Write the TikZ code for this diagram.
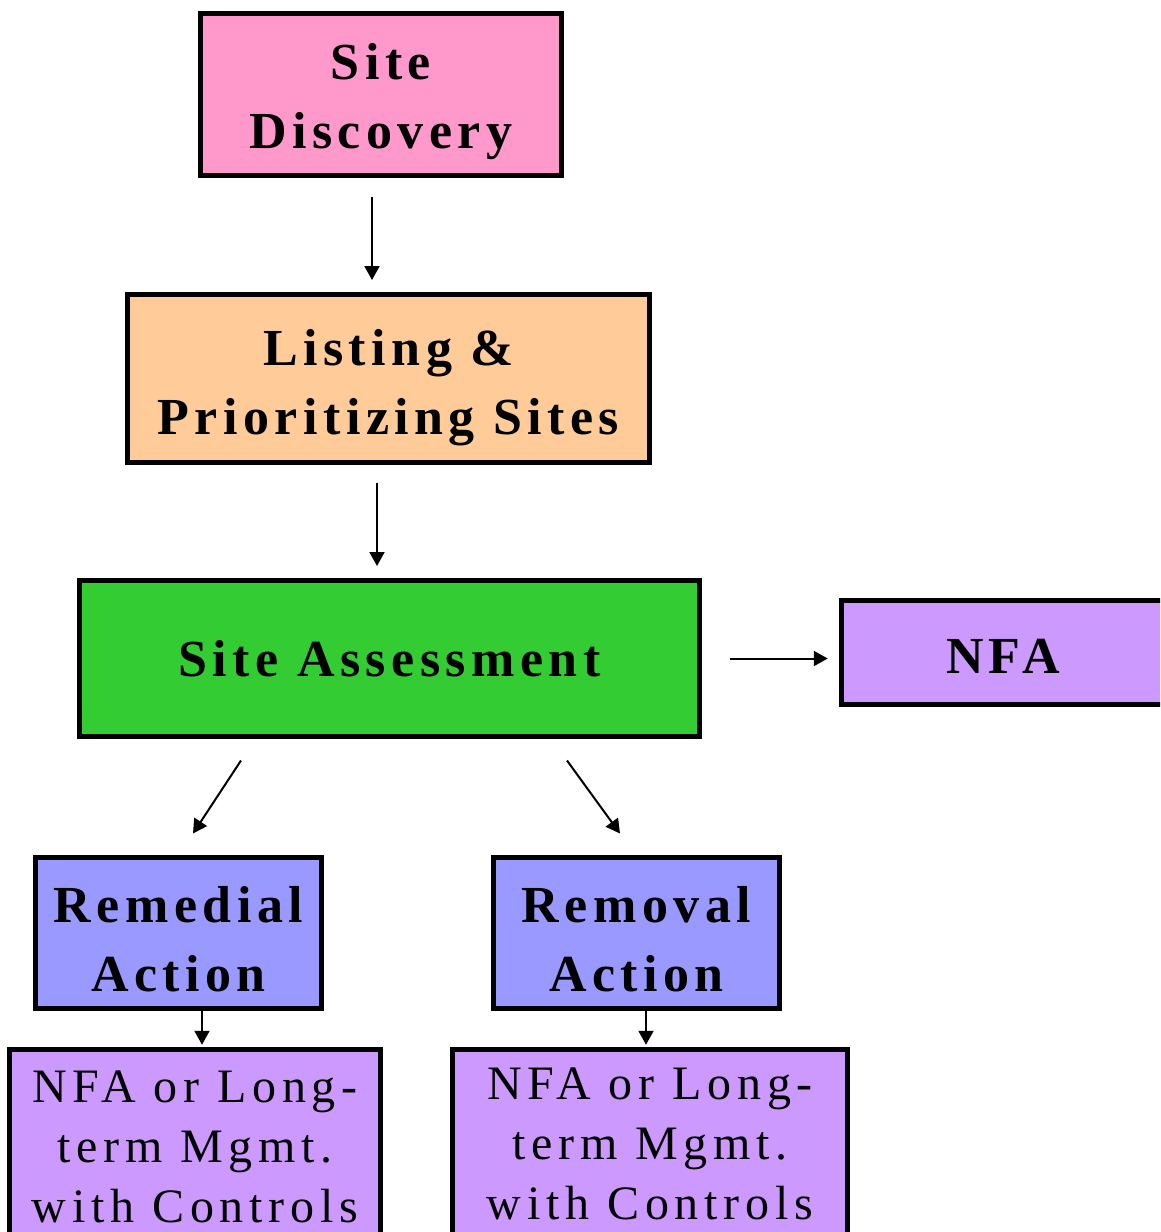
\documentclass[tikz,border=0pt]{standalone}
\usepackage{fontspec}
\usetikzlibrary{arrows.meta}
\newfontfamily\boxfont[LetterSpace=10.5]{Liberation Serif}
\newfontfamily\smallfont[LetterSpace=12]{Liberation Serif}
\definecolor{pinkfill}{HTML}{FF99CC}
\definecolor{orangefill}{HTML}{FFCC99}
\definecolor{greenfill}{HTML}{33CC33}
\definecolor{bluefill}{HTML}{9999FF}
\definecolor{purplefill}{HTML}{CC99FF}
\tikzset{
  box/.style={draw=black, line width=5pt, inner sep=0pt},
  bigtext/.style={align=center, inner sep=0pt,
    font=\boxfont\bfseries\fontsize{52}{69}\selectfont},
  smalltext/.style={align=center, inner sep=0pt,
    font=\smallfont\fontsize{48}{60}\selectfont},
  arr/.style={line width=2pt, -{Triangle[length=14pt,width=15pt]}}
}
\begin{document}
\begin{tikzpicture}[x=1pt,y=-1pt]
\clip (0,0) rectangle (1160,1232);
\fill[white] (0,0) rectangle (1160,1232);
\node[box, fill=pinkfill, minimum width=361pt, minimum height=162pt] (disc) at (381,94.5) {};
\node[box, fill=orangefill, minimum width=522pt, minimum height=168pt] (list) at (388.5,378.5) {};
\node[box, fill=greenfill, minimum width=620pt, minimum height=156pt] (assess) at (389.5,658.5) {};
\node[box, fill=purplefill, minimum width=323.5pt, minimum height=104pt] (nfa) at (1003,652.5) {};
\node[box, fill=bluefill, minimum width=286pt, minimum height=151pt] (remed) at (178.5,933) {};
\node[box, fill=bluefill, minimum width=286pt, minimum height=151pt] (remov) at (636.5,933) {};
\node[box, fill=purplefill, minimum width=371pt, minimum height=195.5pt] (nfaone) at (195,1147) {};
\node[box, fill=purplefill, minimum width=395pt, minimum height=195.5pt] (nfatwo) at (650,1147) {};

\node[bigtext] (disct) at ([yshift=-7pt]disc.center) {Site\\Discovery};
\node[bigtext] (listt) at ([yshift=-9pt]list.center) {Listing \&\\Prioritizing Sites};
\node[bigtext] (assesst) at ([yshift=0pt]assess.center) {Site Assessment};
\node[bigtext] (nfat) at ([yshift=-4pt]nfa.center) {NFA};
\node[bigtext] (remedt) at ([yshift=-6pt]remed.center) {Remedial\\Action};
\node[bigtext] (removt) at ([yshift=-6pt]remov.center) {Removal\\Action};
\node[smalltext] (nfaonet) at ([yshift=0pt]nfaone.center) {NFA or Long-\\term Mgmt.\\with Controls};
\node[smalltext] (nfatwot) at ([yshift=3pt]nfatwo.center) {NFA or Long-\\term Mgmt.\\with Controls};

\draw[arr, shorten <=18.5pt, shorten >=12pt] ([xshift=-9pt]disc.south) -- ([xshift=-16.5pt]list.north);
\draw[arr, shorten <=17.5pt, shorten >=12pt] ([xshift=-11.5pt]list.south) -- ([xshift=-12.5pt]assess.north);
\draw[arr, shorten <=27.5pt, shorten >=11pt] (assess.east) -- (assess.east -| nfa.west);
\draw[arr] ([shift={(-148.5,21.5)}]assess.south) -- ([shift={(14.5,-21.5)}]remed.north);
\draw[arr] ([shift={(177.5,21.5)}]assess.south) -- ([shift={(-16.5,-21.5)}]remov.north);
\draw[arr, shorten <=-5pt, shorten >=2pt] ([xshift=23.5pt]remed.south) -- ([xshift=7pt]nfaone.north);
\draw[arr, shorten <=-5pt, shorten >=2pt] ([xshift=9.5pt]remov.south) -- ([xshift=-4pt]nfatwo.north);
\end{tikzpicture}
\end{document}
